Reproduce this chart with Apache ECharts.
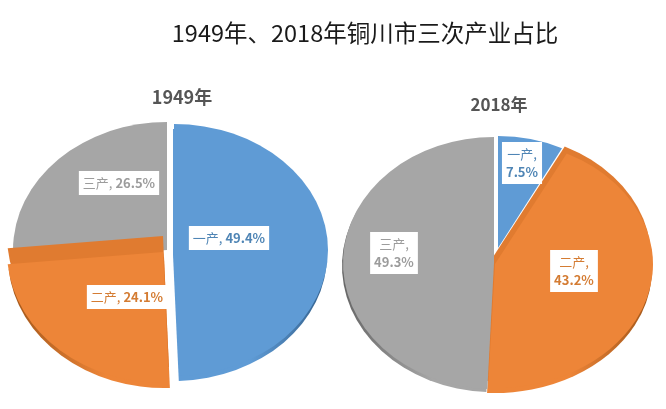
<!DOCTYPE html>
<html><head><meta charset="utf-8">
<style>html,body{margin:0;padding:0;background:#fff}#c{width:666px;height:409px;filter:blur(0.4px)}</style>
<script src="https://cdn.jsdelivr.net/npm/echarts@6/dist/echarts.min.js"></script>
</head><body><div id="c"></div>
<script>
const categories = ['一产', '二产', '三产'];
const values1949 = [49.4, 24.1, 26.5];
const values2018 = [7.5, 43.2, 49.3];
const chartTitle = '1949年、2018年铜川市三次产业占比';
const pieNames = ['1949年', '2018年'];

const FONT = '"Noto Sans CJK SC","Noto Sans",sans-serif';
const faceColors = ['#5f9bd5', '#ed8538', '#a6a6a6'];
const wallColors = ['#4c86bd', '#e07b30', '#8f8f8f'];
const sideDark = ['#33608c', '#a05518', '#666666'];
const textColors = ['#4f85b5', '#d47c33', '#9c9c9c'];

// per-slice drawing geometry: centre, radii, side offset, wall lift, layer, label box centre, line break
const layout1949 = [
  {cx:174, cy:250, rx:154, ry:126, side:[-1,5], lift:null, z:1, lx:229, ly:238, sep:', '},
  {cx:163, cy:252, rx:156, ry:131, side:[1,5], lift:[0,-16], z:3, lx:127, ly:297, sep:', '},
  {cx:167, cy:250, rx:154, ry:128, side:[0,0], lift:null, z:1, lx:119, ly:183, sep:', '}
];
const layout2018 = [
  {cx:498, cy:248, rx:141, ry:112, side:[0,0], lift:null, z:1, lx:522, ly:163, sep:',\n'},
  {cx:495, cy:264, rx:158, ry:124, side:[-1,5], lift:[-2,-7], z:3, lx:574, ly:271, sep:',\n'},
  {cx:494, cy:263, rx:151, ry:126, side:[-1,3], lift:null, z:3, lx:394, ly:253, sep:',\n'}
];

function makeRender(values, layout) {
  const total = values.reduce((a, b) => a + b, 0);
  return function (params, api) {
    const i = params.dataIndex;
    const v = api.value(1);
    const before = values.slice(0, i).reduce((a, b) => a + b, 0);
    const a0 = before / total * 2 * Math.PI - Math.PI / 2;
    const a1 = (before + v) / total * 2 * Math.PI - Math.PI / 2;
    const g = layout[i];
    const sector = (dx, dy, fill, z2) => ({
      type: 'sector', x: g.cx + dx, y: g.cy + dy, scaleY: g.ry / g.rx, z2,
      shape: {cx: 0, cy: 0, r0: 0, r: g.rx, startAngle: a0, endAngle: a1, clockwise: true},
      style: {fill}
    });
    const leftHeavy = i !== 0 && (a0 + a1) / 2 > Math.PI / 2;
    const grad = {type: 'linear', x: 0, y: 0, x2: 1, y2: 0, colorStops: leftHeavy
      ? [{offset: 0, color: sideDark[i]}, {offset: 0.6, color: faceColors[i]}, {offset: 1, color: faceColors[i]}]
      : [{offset: 0, color: faceColors[i]}, {offset: 0.5, color: faceColors[i]}, {offset: 1, color: sideDark[i]}]};
    const children = [];
    if (g.side[1]) children.push(sector(g.side[0], g.side[1], grad, g.z - 1));
    if (g.lift) children.push(sector(g.lift[0], g.lift[1], wallColors[i], g.z));
    children.push(sector(0, 0, faceColors[i], g.z + 1));
    children.push({
      type: 'text', x: g.lx, y: g.ly, z2: 50,
      style: {
        text: '{n|' + categories[i] + g.sep.replace('\n', '}\n{n|') + '}{v|' + v.toFixed(1) + '%}',
        rich: {
          n: {fill: textColors[i], font: '400 13px ' + FONT, lineHeight: 18},
          v: {fill: textColors[i], font: '700 13px ' + FONT, lineHeight: 18}
        },
        align: 'center', verticalAlign: 'middle',
        backgroundColor: '#ffffff', padding: [3, 4],
        boxShadowColor: 'rgba(60,60,60,0.4)', boxShadowBlur: 3, boxShadowOffsetX: 1, boxShadowOffsetY: 1
      }
    });
    return {type: 'group', children};
  };
}

function pieSeries(name, values, layout) {
  return {
    type: 'custom', name, coordinateSystem: 'none', silent: true, animation: false,
    data: values.map((v, i) => [i, v]),
    renderItem: makeRender(values, layout)
  };
}

const chart = echarts.init(document.getElementById('c'), null, {renderer: 'canvas'});
chart.setOption({
  backgroundColor: '#ffffff',
  animation: false,
  title: [
    {text: chartTitle, left: 360, top: 16, textAlign: 'center',
     textStyle: {fontFamily: FONT, fontSize: 23.5, fontWeight: 'normal', color: '#1a1a1a'}},
    {text: pieNames[0], left: 177, top: 83, textAlign: 'center',
     textStyle: {fontFamily: FONT, fontSize: 18, fontWeight: 'bold', color: '#555555'}},
    {text: pieNames[1], left: 494, top: 91, textAlign: 'center',
     textStyle: {fontFamily: FONT, fontSize: 17, fontWeight: 'bold', color: '#555555'}}
  ],
  series: [pieSeries(pieNames[0], values1949, layout1949), pieSeries(pieNames[1], values2018, layout2018)]
});
</script></body></html>
